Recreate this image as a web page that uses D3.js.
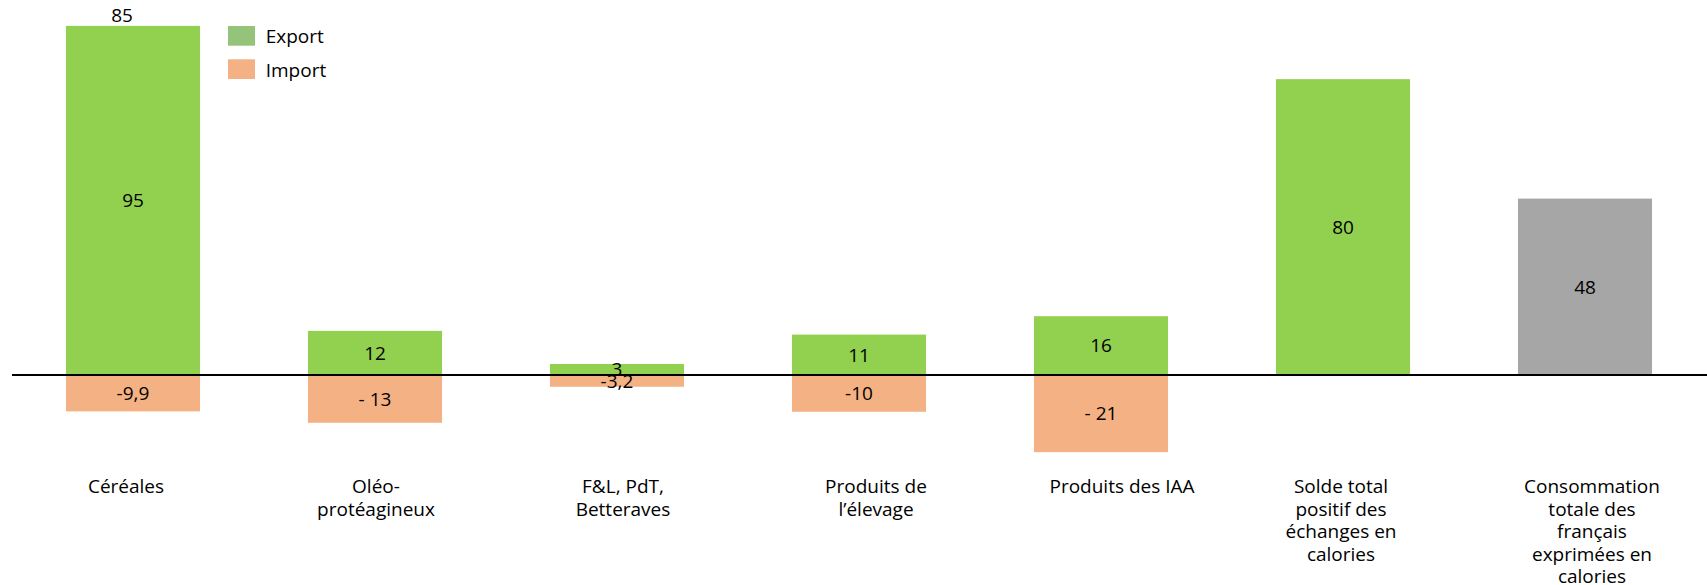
<!DOCTYPE html>
<html>
<head>
<meta charset="utf-8">
<script src="https://cdn.jsdelivr.net/npm/d3@7"></script>
<style>
  html, body { margin: 0; padding: 0; background: #ffffff; }
  svg { display: block; font-family: "Open Sans", "Noto Sans", sans-serif; }
</style>
</head>
<body>
<svg id="chart" width="1707" height="585"></svg>
<script>
// ---- Data ----
const categories = [
  "Céréales",
  "Oléo-\nprotéagineux",
  "F&L, PdT,\nBetteraves",
  "Produits de\nl’élevage",
  "Produits des IAA",
  "Solde total\npositif des\néchanges en\ncalories",
  "Consommation\ntotale des\nfrançais\nexprimées en\ncalories"
];
const exportValues = [95, 12, 3, 11, 16, 80.5, 48];
const importValues = [-9.9, -13, -3.2, -10, -21, null, null];
const exportLabels = ["95", "12", "3", "11", "16", "80", "48"];
const importLabels = ["-9,9", "- 13", "-3,2", "-10", "- 21", "", ""];
const topLabels = ["85", "", "", "", "", "", ""];
const barKinds = ["export", "export", "export", "export", "export", "export", "total"];
const legendItems = ["Export", "Import"];

// ---- Layout / style ----
const W = 1707, H = 585;
const colors = { export: "#92D050", import: "#F4B183", total: "#A6A6A6" };
const legendColors = { Export: "#94C47A", Import: "#F4B183" };
const fontSize = 19;
const labelNudge = [-7, 1, 6, 17, 21, -2, 7];   // horizontal offsets of category labels
const topLabelNudge = -11;

const svg = d3.select("#chart");

const x = d3.scaleBand()
  .domain(categories)
  .range([12, 1706])
  .paddingInner(0.446)
  .paddingOuter(0.223);

const unit = 3.675;
const zeroY = 375;
const y = d3.scaleLinear()
  .domain([-25, 100])
  .range([zeroY + 25 * unit, zeroY - 100 * unit]);

const rows = categories.map((c, i) => ({
  cat: c, i,
  exp: exportValues[i], imp: importValues[i],
  expLabel: exportLabels[i], impLabel: importLabels[i],
  top: topLabels[i], kind: barKinds[i]
}));

// Import bars
svg.append("g").selectAll("rect")
  .data(rows.filter(d => d.imp !== null))
  .join("rect")
  .attr("x", d => x(d.cat))
  .attr("width", x.bandwidth())
  .attr("y", y(0))
  .attr("height", d => y(d.imp) - y(0))
  .attr("fill", colors.import);

// Export / total bars
svg.append("g").selectAll("rect")
  .data(rows)
  .join("rect")
  .attr("x", d => x(d.cat))
  .attr("width", x.bandwidth())
  .attr("y", d => y(d.exp))
  .attr("height", d => y(0) - y(d.exp))
  .attr("fill", d => colors[d.kind]);

// Zero line
svg.append("line")
  .attr("x1", 12).attr("x2", W)
  .attr("y1", y(0)).attr("y2", y(0))
  .attr("stroke", "#000").attr("stroke-width", 2);

// Value labels (export)
svg.append("g").selectAll("text")
  .data(rows)
  .join("text")
  .attr("x", d => x(d.cat) + x.bandwidth() / 2)
  .attr("y", d => (y(d.exp) + y(0)) / 2)
  .attr("dy", "0.36em")
  .attr("text-anchor", "middle")
  .attr("font-size", fontSize)
  .attr("fill", "#000")
  .text(d => d.expLabel);

// Value labels (import)
svg.append("g").selectAll("text")
  .data(rows.filter(d => d.imp !== null))
  .join("text")
  .attr("x", d => x(d.cat) + x.bandwidth() / 2)
  .attr("y", d => (y(d.imp) + y(0)) / 2)
  .attr("dy", "0.36em")
  .attr("text-anchor", "middle")
  .attr("font-size", fontSize)
  .attr("fill", "#000")
  .text(d => d.impLabel);

// Top labels
svg.append("g").selectAll("text")
  .data(rows.filter(d => d.top))
  .join("text")
  .attr("x", d => x(d.cat) + x.bandwidth() / 2 + topLabelNudge)
  .attr("y", d => y(d.exp) - 4)
  .attr("text-anchor", "middle")
  .attr("font-size", fontSize)
  .attr("fill", "#000")
  .text(d => d.top);

// Category labels
const lineH = 22.6;
const catG = svg.append("g").selectAll("text")
  .data(rows)
  .join("text")
  .attr("x", d => x(d.cat) + x.bandwidth() / 2 + labelNudge[d.i])
  .attr("y", 493)
  .attr("text-anchor", "middle")
  .attr("font-size", fontSize)
  .attr("fill", "#000");
catG.selectAll("tspan")
  .data(d => d.cat.split("\n").map(t => ({ t, xx: x(d.cat) + x.bandwidth() / 2 + labelNudge[d.i] })))
  .join("tspan")
  .attr("x", s => s.xx)
  .attr("dy", (s, j) => j === 0 ? 0 : lineH)
  .text(s => s.t);

// Legend
const leg = svg.append("g").attr("transform", "translate(228,26)");
legendItems.forEach((name, k) => {
  const g = leg.append("g").attr("transform", `translate(0,${k * 33.3})`);
  g.append("rect").attr("width", 27).attr("height", 19.7).attr("fill", legendColors[name]);
  g.append("text").attr("x", 37.7).attr("y", 17.3)
    .attr("font-size", fontSize).attr("fill", "#000").text(name);
});
</script>
</body>
</html>
